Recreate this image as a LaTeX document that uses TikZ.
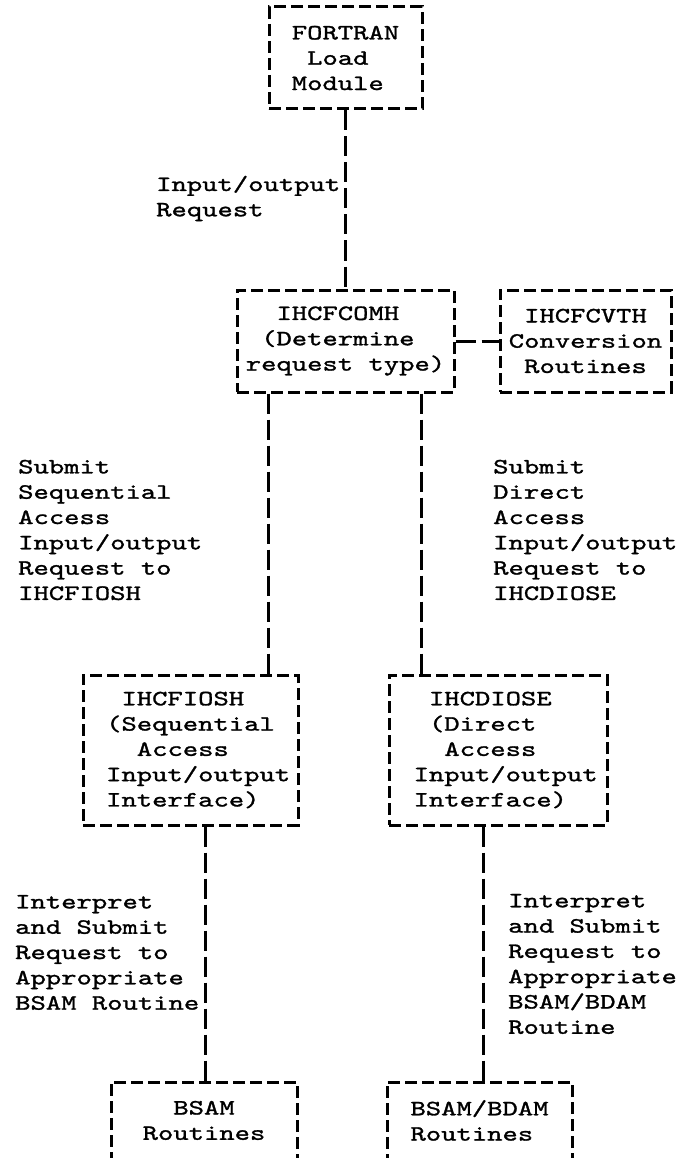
\documentclass[tikz,border=0pt]{standalone}
\usepackage{fontspec}
\newfontfamily\tyfont[FakeStretch=1.34, FakeBold=1.3]{lmmono10-regular.otf}
\newcommand{\ibmtype}{\tyfont\fontsize{21.8pt}{25.3pt}\selectfont}
\tikzset{
  modbox/.style   = {draw, line width=3pt, dash pattern=on 12pt off 5pt,
                     align=left, inner sep=0pt, font=\ibmtype},     % a module
  flowline/.style = {line width=3pt, dash pattern=on 20pt off 6pt}, % a call path
  flownote/.style = {anchor=west, align=left, inner sep=0pt, font=\ibmtype},
}

\begin{document}
\begin{tikzpicture}[x=1pt, y=-1pt]
      \useasboundingbox (0,0) rectangle (690,1158);
      % modules
      \node[modbox, minimum width=153pt, minimum height=102pt] (fortran) at (345.5,58)
        {FORTRAN\\~Load\\Module};
      \node[modbox, minimum width=217pt, minimum height=102pt] (comh) at (345.5,341)
        {~~IHCFCOMH\\~(Determine\\request type)};
      \node[modbox, minimum width=171pt, minimum height=102pt] (cvth) at (585.5,341)
        {~IHCFCVTH\\Conversion\\~Routines};
      \node[modbox, minimum width=215pt, minimum height=150pt] (fiosh) at (190.5,750)
        {~~IHCFIOSH\\~(Sequential\\~~~Access\\~Input/output\\~Interface)};
      \node[modbox, minimum width=218pt, minimum height=150pt] (diose) at (498,750)
        {~~IHCDIOSE\\~~(Direct\\~~~Access\\~Input/output\\~Interface)};
      \node[modbox, minimum width=186pt, minimum height=102pt] (bsam) at (204,1133)
        {~~BSAM\\Routines\\~};
      \node[modbox, minimum width=185pt, minimum height=102pt] (bdam) at (479.5,1133)
        {BSAM/BDAM\\Routines\\~};
      % call paths
      \draw[flowline] (fortran) -- (comh);
      \draw[flowline] (comh) -- (cvth);
      \draw[flowline] ([xshift=-77.5pt]comh.south) -- ([xshift=-77.5pt]comh.south |- fiosh.north);
      \draw[flowline] ([xshift=76pt]comh.south) -- ([xshift=76pt]comh.south |- diose.north);
      \draw[flowline] ([xshift=14.5pt]fiosh.south) -- ([xshift=14.5pt]fiosh.south |- bsam.north);
      \draw[flowline] ([xshift=-15pt]diose.south) -- ([xshift=-15pt]diose.south |- bdam.north);
      % notes on the paths
      \node[flownote] (ionote) at (156,198.5) {Input/output\\Request};
      \node[flownote] (seqnote) at (18,530)
        {Submit\\Sequential\\Access\\Input/output\\Request to\\IHCFIOSH};
      \node[flownote] (dirnote) at (493,530)
        {Submit\\Direct\\Access\\Input/output\\Request to\\IHCDIOSE};
      \node[flownote] (bsamnote) at (15,952.5)
        {Interpret\\and Submit\\Request to\\Appropriate\\BSAM Routine};
      \node[flownote] (bdamnote) at (508,964)
        {Interpret\\and Submit\\Request to\\Appropriate\\BSAM/BDAM\\Routine};
    \end{tikzpicture}
\end{document}
